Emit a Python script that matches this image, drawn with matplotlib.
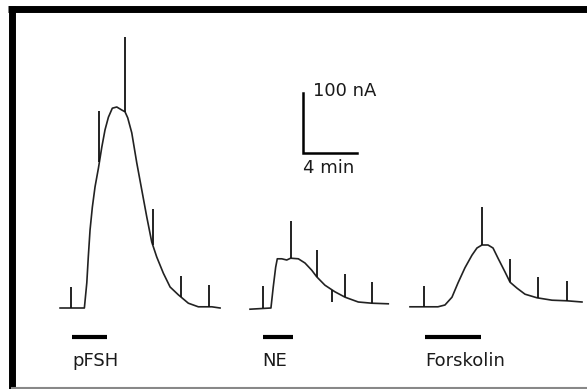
import numpy as np
from matplotlib import pyplot as plt

# time in min (from start of each record), current in nA above baseline
fsh_t = [0.15, 1.95, 2.13, 2.24, 2.37, 2.54, 2.74, 2.99, 3.24, 3.48, 3.73, 4.02,
         4.35, 4.72, 4.96, 5.16, 5.46, 5.83, 6.20, 6.57, 6.94, 7.31, 7.80, 8.30,
         8.91, 9.65, 10.39, 11.39, 12.0]
fsh_i = [0, 0, 42, 85, 130, 168, 202, 233, 268, 297, 318, 333,
         335, 330, 327, 317, 292, 242, 197, 152, 110, 85, 58, 35,
         22, 8, 2, 2, 0]
fsh_spk_t = [0.94, 3.06, 4.96, 7.01, 9.11, 11.19]
fsh_spk_h = [35, 85, 125, 60, 35, 36]

ne_t = [0.15, 1.70, 1.87, 2.05, 2.17, 2.50, 2.87, 3.16, 3.73, 4.22, 4.72, 5.09,
        5.70, 6.44, 7.19, 8.17, 9.16, 10.39]
ne_i = [-2, 0, 35, 68, 82, 82, 80, 83, 82, 75, 63, 52,
        38, 27, 18, 10, 8, 7]
ne_spk_t = [1.13, 3.16, 5.13, 6.24, 7.19, 9.21]
ne_spk_h = [37, 62, 46, -20, 38, 35]

fsk_t = [0, 2.07, 2.59, 3.11, 3.56, 4.07, 4.59, 4.96, 5.33, 5.78, 6.15, 6.52,
         7.04, 7.41, 7.93, 8.52, 9.41, 10.52, 11.63, 12.74]
fsk_i = [2, 2, 5, 18, 42, 67, 88, 100, 105, 105, 100, 83,
         60, 43, 33, 23, 17, 13, 12, 10]
fsk_spk_t = [1.04, 5.33, 7.41, 9.48, 11.63]
fsk_spk_h = [35, 63, 38, 35, 33]

# record start (min on page), drug application (start, end), label
starts = [4.30, 18.37, 30.37]
apps = [(1.04, 3.63), (1.09, 3.31), (1.11, 5.24)]
labels = ['pFSH', 'NE', 'Forskolin']

traces = [(fsh_t, fsh_i, fsh_spk_t, fsh_spk_h),
          (ne_t, ne_i, ne_spk_t, ne_spk_h),
          (fsk_t, fsk_i, fsk_spk_t, fsk_spk_h)]

fig = plt.figure(figsize=(5.87, 3.89), dpi=100)
ax = fig.add_axes([0, 0, 1, 1])
ax.set_xlim(0, 587 / 13.5)
ax.set_ylim(-81 / 0.6, 308 / 0.6)
ax.axis('off')

for (t, i, st, sh), t0, (a0, a1), lab in zip(traces, starts, apps, labels):
    t = np.array(t) + t0
    ax.plot(t, i, color='#222222', lw=1.2, solid_joinstyle='round')
    st = np.array(st) + t0
    base = np.interp(st, t, i)
    ax.vlines(st, base, base + np.array(sh), color='#111111', lw=1.3)
    ax.plot([t0 + a0, t0 + a1], [-48, -48], color='black', lw=3,
            solid_capstyle='butt')
    ax.text(t0 + a0, -88, lab, fontsize=13, color='#1a1a1a',
            va='center', ha='left')

# scale bars
ax.plot([22.44, 22.44, 26.44], [358, 258, 258], color='black', lw=1.8,
        solid_joinstyle='miter')
ax.text(23.15, 361, '100 nA', fontsize=13, color='#1a1a1a', va='center')
ax.text(22.44, 234, '4 min', fontsize=13, color='#1a1a1a', va='center')

# frame
ax.plot([11.6 / 587] * 2, [0, 0.985], color='black', lw=5,
        transform=ax.transAxes, solid_capstyle='butt')
ax.plot([8.3 / 587, 1], [1 - 9.3 / 389] * 2, color='black', lw=5,
        transform=ax.transAxes, solid_capstyle='butt')
ax.plot([0.02, 1], [1 - 387.5 / 389] * 2, color='#888888', lw=1.5,
        transform=ax.transAxes)

plt.savefig('out.png', dpi=100)
